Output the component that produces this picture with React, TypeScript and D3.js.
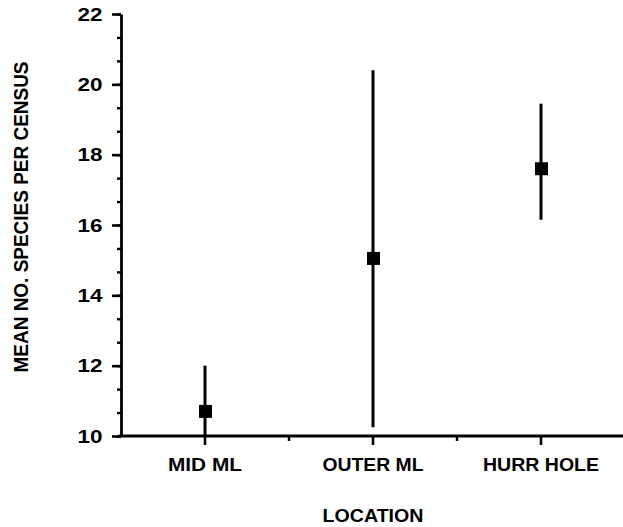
import React, { useEffect, useRef } from "react";
import * as d3 from "d3";

// values
const locations = ["MID ML", "OUTER ML", "HURR HOLE"];
const means = [10.7, 15.05, 17.6];
const upper = [12.0, 20.4, 19.45];
const lower = [9.6, 10.25, 16.15];
const yTicks = [10, 12, 14, 16, 18, 20, 22];
const yMinorTicks = d3.range(0, 19).map((i) => 10 + (i * 2) / 3);
const labelWidths = [74, 101, 116];

const W = 623;
const H = 527;
const FONT = "'Liberation Sans', Arial, sans-serif";

const App = () => {
  const ref = useRef<SVGSVGElement>(null);

  useEffect(() => {
    const svg = d3.select(ref.current);
    svg.selectAll("*").remove();

    const y = d3.scaleLinear().domain([10, 22]).range([436, 14]);
    const x = d3.scaleBand().domain(locations).range([121, 625]);
    const cx = (d: string) => (x(d) as number) + x.bandwidth() / 2;

    const g = svg.append("g");

    // y axis: minor ticks first, then major ticks with labels
    g.append("g")
      .attr("transform", "translate(121,0)")
      .call(d3.axisLeft(y).tickValues(yMinorTicks).tickSize(4).tickFormat(() => ""))
      .call((a) => a.select(".domain").remove())
      .call((a) => a.selectAll("line").attr("stroke-width", 2.4));

    const ya = g
      .append("g")
      .attr("transform", "translate(121,0)")
      .call(d3.axisLeft(y).tickValues(yTicks).tickSize(9).tickSizeOuter(0).tickPadding(18));
    ya.select(".domain").attr("stroke-width", 2.8);
    ya.selectAll("line").attr("stroke-width", 2.6);
    ya.selectAll("text")
      .style("font-family", FONT)
      .style("font-weight", "bold")
      .style("font-size", "18.5px")
      .attr("fill", "#000")
      .attr("text-anchor", "middle")
      .attr("x", -31)
      .attr("textLength", 25)
      .attr("lengthAdjust", "spacingAndGlyphs")
      .attr("dy", "0.34em");

    // x axis
    g.append("line")
      .attr("x1", 119)
      .attr("x2", W)
      .attr("y1", y(10))
      .attr("y2", y(10))
      .attr("stroke", "#000")
      .attr("stroke-width", 2.8);

    g.selectAll(".xminor")
      .data(locations.slice(1))
      .enter()
      .append("line")
      .attr("x1", (d) => x(d) as number)
      .attr("x2", (d) => x(d) as number)
      .attr("y1", y(10))
      .attr("y2", y(10) + 5)
      .attr("stroke", "#000")
      .attr("stroke-width", 2.4);

    g.selectAll(".xmajor")
      .data(locations)
      .enter()
      .append("line")
      .attr("x1", cx)
      .attr("x2", cx)
      .attr("y1", y(10))
      .attr("y2", y(10) + 9)
      .attr("stroke", "#000")
      .attr("stroke-width", 2.6);

    g.selectAll(".xlabel")
      .data(locations)
      .enter()
      .append("text")
      .attr("x", cx)
      .attr("y", 471)
      .attr("text-anchor", "middle")
      .style("font-family", FONT)
      .style("font-weight", "bold")
      .style("font-size", "19px")
      .attr("textLength", (_, i) => labelWidths[i])
      .attr("lengthAdjust", "spacingAndGlyphs")
      .text((d) => d);

    // error bars (clipped at the axis)
    g.selectAll(".bar")
      .data(locations)
      .enter()
      .append("line")
      .attr("x1", cx)
      .attr("x2", cx)
      .attr("y1", (_, i) => y(upper[i]))
      .attr("y2", (_, i) => y(Math.max(lower[i], 10)))
      .attr("stroke", "#000")
      .attr("stroke-width", 3);

    // mean markers
    g.selectAll(".mean")
      .data(locations)
      .enter()
      .append("rect")
      .attr("x", (d) => cx(d) - 6)
      .attr("y", (_, i) => y(means[i]) - 6.5)
      .attr("width", 13)
      .attr("height", 13)
      .attr("fill", "#000");

    // axis titles
    g.append("text")
      .attr("x", cx(locations[1]))
      .attr("y", 522)
      .attr("text-anchor", "middle")
      .style("font-family", FONT)
      .style("font-weight", "bold")
      .style("font-size", "19px")
      .attr("textLength", 101)
      .attr("lengthAdjust", "spacingAndGlyphs")
      .text("LOCATION");

    g.append("text")
      .attr("transform", "translate(28,217) rotate(-90)")
      .attr("text-anchor", "middle")
      .style("font-family", FONT)
      .style("font-weight", "bold")
      .style("font-size", "20px")
      .attr("textLength", 311)
      .attr("lengthAdjust", "spacingAndGlyphs")
      .text("MEAN NO. SPECIES PER CENSUS");
  });

  return (
    <svg
      ref={ref}
      width={W}
      height={H}
      style={{ position: "absolute", left: 0, top: 0, background: "#fff" }}
    />
  );
};

export default App;
